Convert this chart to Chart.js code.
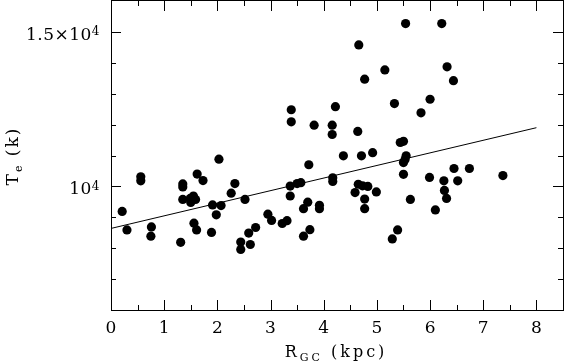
<!DOCTYPE html>
<html>
<head>
<meta charset="utf-8">
<title>Te vs RGC</title>
<script src="https://cdn.jsdelivr.net/npm/chart.js@4.4.0/dist/chart.umd.min.js"></script>
<style>
  html, body { margin: 0; padding: 0; background: #fff; }
</style>
</head>
<body>
<canvas id="te" width="564" height="362"></canvas>
<script>
// galactocentric distance (kpc) and electron temperature (K)
const rgc = [0.21, 0.30, 0.56, 0.56, 0.76, 0.75, 1.31, 1.35, 1.35, 1.35,
             1.49, 1.55, 1.59, 1.50, 1.62, 1.73, 1.56, 1.61, 1.89, 2.03,
             1.91, 2.07, 1.98, 2.26, 2.33, 2.52, 2.44, 2.44, 2.62, 2.59,
             2.72, 2.95, 3.02, 3.22, 3.31, 3.37, 3.50, 3.57, 3.37, 3.72,
             3.70, 3.62, 3.92, 3.92, 3.74, 3.62, 4.17, 4.17, 4.37, 4.71,
             4.92, 4.65, 4.73, 4.83, 4.59, 4.77, 4.77, 4.99, 5.44, 5.50,
             5.55, 5.53, 5.50, 5.50, 5.63, 5.99, 6.26, 6.45, 6.74, 6.52,
             6.27, 6.31, 6.10, 7.37, 5.39, 5.29, 4.66, 5.15, 4.77, 3.39,
             3.39, 3.82, 4.16, 4.16, 4.22, 4.64, 5.54, 6.22, 6.32, 6.44,
             5.33, 6.00, 5.83];
const te = [9190, 8590, 10310, 10180, 8690, 8390, 8190, 10080, 9980, 9580,
            9610, 9690, 9580, 9480, 10400, 10190, 8810, 8590, 8510, 10880,
            9400, 9380, 9080, 9780, 10090, 9580, 8200, 7960, 8120, 8490,
            8670, 9100, 8900, 8800, 8890, 10010, 10090, 10120, 9690, 10700,
            9490, 9280, 9390, 9280, 8600, 8390, 10280, 10160, 10990, 10990,
            11090, 10070, 10020, 10000, 9800, 9590, 9280, 9820, 11420, 11460,
            10990, 10870, 10770, 10390, 9580, 10290, 10180, 10580, 10580, 10180,
            9870, 9610, 9240, 10350, 8590, 8300, 14580, 13770, 13470, 12480,
            12090, 11980, 11980, 11680, 12580, 11780, 15270, 15270, 13870, 13420,
            12680, 12820, 12380];

// linear fit across the plot
const fitX = [0, 8];
const fitY = [8640, 11900];

// ticks
const xMajor = [0, 1, 2, 3, 4, 5, 6, 7, 8];
const xMinor = [0.5, 1.5, 2.5, 3.5, 4.5, 5.5, 6.5, 7.5];
const yMajor = [10000, 15000];
const yMinor = [7000, 8000, 9000, 11000, 12000, 13000, 14000];
const yLabels = ['10', '1.5×10'];   // each followed by a superscript 4

const FONT = '"DejaVu Serif", serif';

function runs(c, segs, x, y, align, ls) {
  let w = 0;
  segs.forEach(s => {
    c.font = s[1] + 'px ' + FONT;
    c.letterSpacing = ls + 'px';
    s.w = c.measureText(s[0]).width;
    w += s.w;
  });
  let sx = align === 'center' ? x - w / 2 : align === 'right' ? x - w : x;
  segs.forEach(s => {
    c.font = s[1] + 'px ' + FONT;
    c.letterSpacing = ls + 'px';
    c.fillText(s[0], sx, y + s[2]);
    sx += s.w;
  });
}

const frame = {
  id: 'frame',
  afterDraw(chart) {
    const c = chart.ctx, a = chart.chartArea;
    const xs = chart.scales.x, ys = chart.scales.y;
    c.save();
    c.strokeStyle = '#000';
    c.lineWidth = 1;
    c.strokeRect(a.left + 0.5, a.top - 0.5, a.right - a.left, a.bottom - a.top + 1);

    c.beginPath();
    const tx = (v, len) => {
      const p = Math.round(xs.getPixelForValue(v)) + 0.5;
      c.moveTo(p, a.bottom); c.lineTo(p, a.bottom - len);
      c.moveTo(p, a.top); c.lineTo(p, a.top + len);
    };
    const ty = (v, len) => {
      const p = Math.round(ys.getPixelForValue(v)) + 0.5;
      c.moveTo(a.left, p); c.lineTo(a.left + len, p);
      c.moveTo(a.right, p); c.lineTo(a.right - len, p);
    };
    xMajor.forEach(v => tx(v, 10));
    xMinor.forEach(v => tx(v, 5));
    yMajor.forEach(v => ty(v, 10));
    yMinor.forEach(v => ty(v, 5));
    c.stroke();

    c.fillStyle = '#000';
    c.textBaseline = 'alphabetic';
    c.textAlign = 'left';

    // x tick labels
    xMajor.forEach(v => {
      runs(c, [[String(v), 17, 0]], xs.getPixelForValue(v), 333, 'center', 0);
    });

    // y tick labels with superscript exponent
    yMajor.forEach((v, i) => {
      const p = ys.getPixelForValue(v);
      runs(c, [[yLabels[i], 17, 0], ['4', 12, -4.5]], 100, p + 8, 'right', 0.5);
    });

    // x title
    runs(c, [['R', 16, 0], ['GC', 11, 3.5], [' (kpc)', 16, 0]], 336, 357, 'center', 3);

    // y title
    c.translate(18, 156);
    c.rotate(-Math.PI / 2);
    runs(c, [['T', 17, 0], ['e', 11, 4], [' (k)', 17, 0]], 0, 0, 'center', 2);
    c.restore();
  }
};

const pts = rgc.map((r, i) => ({ x: r, y: te[i] }));
const fit = fitX.map((r, i) => ({ x: r, y: fitY[i] }));

new Chart(document.getElementById('te'), {
  type: 'scatter',
  data: {
    datasets: [
      { data: pts, backgroundColor: '#000', borderWidth: 0, pointRadius: 4.6, pointHoverRadius: 4.6 },
      { type: 'line', data: fit, borderColor: '#000', borderWidth: 1, pointRadius: 0, fill: false }
    ]
  },
  options: {
    responsive: false,
    devicePixelRatio: 1,
    animation: false,
    layout: { autoPadding: false, padding: { left: 111, right: 1, top: 1, bottom: 52 } },
    scales: {
      x: { type: 'linear', min: 0, max: 8.5, display: false },
      y: { type: 'linear', min: 6000, max: 16000, display: false }
    },
    plugins: { legend: { display: false }, tooltip: { enabled: false } }
  },
  plugins: [frame]
});
</script>
</body>
</html>
